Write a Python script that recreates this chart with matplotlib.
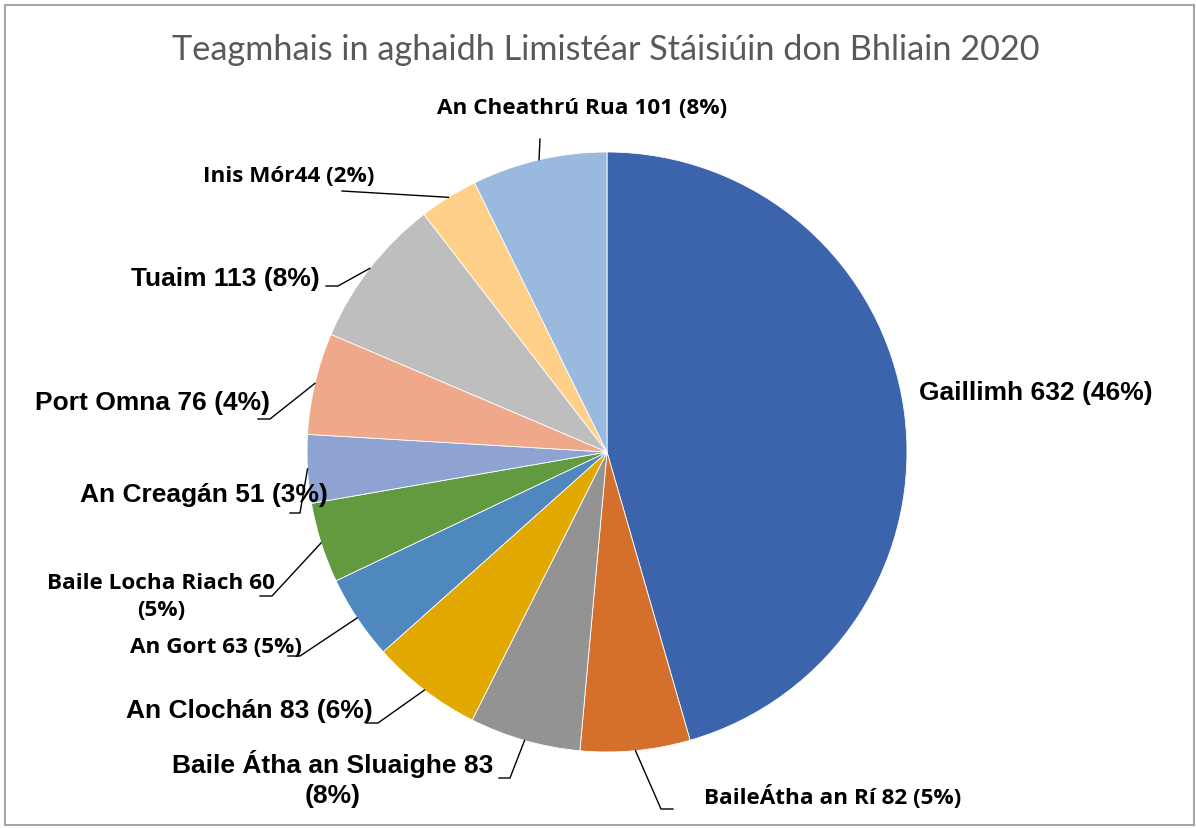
import numpy as np
import matplotlib
matplotlib.use("Agg")
import matplotlib.pyplot as plt
from matplotlib.patches import Rectangle

# incidents per station area, 2020 (clockwise from 12 o'clock)
stations = ["Gaillimh", "BaileÁtha an Rí", "Baile Átha an Sluaighe", "An Clochán",
            "An Gort", "Baile Locha Riach", "An Creagán", "Port Omna", "Tuaim",
            "Inis Mór", "An Cheathrú Rua"]
incidents = [632, 82, 83, 83, 63, 60, 51, 76, 113, 44, 101]
label_texts = ["Gaillimh 632 (46%)", "BaileÁtha an Rí 82 (5%)",
               "Baile Átha an Sluaighe 83\n(8%)", "An Clochán 83 (6%)",
               "An Gort 63 (5%)", "Baile Locha Riach 60\n(5%)", "An Creagán 51 (3%)",
               "Port Omna 76 (4%)", "Tuaim 113 (8%)", "Inis Mór44 (2%)",
               "An Cheathrú Rua 101 (8%)"]
colors = ["#3C64AD", "#D4702B", "#939393", "#E1A900", "#4F88BE", "#629B3F",
          "#8FA3D3", "#F0A88A", "#BEBEBE", "#FFD08A", "#99B9DF"]

W, H = 1196, 829
fig = plt.figure(figsize=(W / 100, H / 100), dpi=100)
ax = fig.add_axes([0, 0, 1, 1])
ax.set_xlim(0, W)
ax.set_ylim(0, H)
ax.axis("off")

cx, cy, R = 607, H - 453, 300
wedges, _ = ax.pie(incidents, colors=colors, startangle=90, counterclock=False,
                   center=(cx, cy), radius=R,
                   wedgeprops=dict(edgecolor="white", linewidth=0.6))
ax.set_xlim(0, W)
ax.set_ylim(0, H)
ax.set_aspect("equal")

arial = ["Liberation Sans", "DejaVu Sans"]
narrow = ["Open Sans", "DejaVu Sans"]
big, small = 19, 16.2

# label layout: (x, y from top, ha, font, size, elbow, end) -- None means no leader
layout = [
    (919, 393, "left", arial, big, None, None),
    (704, 797, "left", narrow, small, (661, 810), (673, 810)),
    (333, 779, "center", arial, big, (510, 779), (499, 779)),
    (373, 711, "right", arial, big, (378, 724), (366, 724)),
    (302, 648, "right", narrow, small, (300, 657), (288, 657)),
    (161, 597, "center", narrow, small, (272, 597), (260, 597)),
    (328, 495, "right", arial, big, (300, 514), (290, 514)),
    (270, 403, "right", arial, big, (270, 420), (258, 420)),
    (320, 279, "right", arial, big, (338, 287), (326, 287)),
    (374, 177, "right", narrow, small, (342, 192), None),
    (582, 108, "center", narrow, small, (540, 140), None),
]

for w, txt, (x, y, ha, fam, size, elbow, end) in zip(wedges, label_texts, layout):
    mid = np.deg2rad((w.theta1 + w.theta2) / 2)
    ax_x = cx + R * np.cos(mid)
    ax_y = cy + R * np.sin(mid)
    if elbow is not None:
        xs = [ax_x, elbow[0]]
        ys = [ax_y, H - elbow[1]]
        if end is not None:
            xs.append(end[0])
            ys.append(H - end[1])
        ax.plot(xs, ys, color="black", linewidth=1)
    ax.text(x, H - y, txt, ha=ha, va="center", multialignment="center",
            family=fam, fontweight="bold", fontsize=size, color="black",
            linespacing=1.35)

ax.text(606, H - 50, "Teagmhais in aghaidh Limistéar Stáisiúin don Bhliain 2020",
        ha="center", va="center", family=["Lato", "DejaVu Sans"],
        fontsize=24.7, color="#595959")

# chart frame
fig.patches.append(Rectangle((5 / W, 3 / H), 1189 / W, 820 / H, transform=fig.transFigure,
                             fill=False, edgecolor="#A6A6A6", linewidth=1.5))

fig.savefig("out.png", dpi=100)
